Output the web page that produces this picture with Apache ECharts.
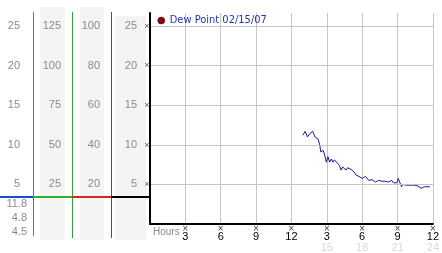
<!DOCTYPE html>
<html><head><meta charset="utf-8">
<script src="https://cdn.jsdelivr.net/npm/echarts@6/dist/echarts.min.js"></script>
<style>html,body{margin:0;padding:0;background:#fff}#c{width:442px;height:253px}</style>
</head><body><div id="c"></div>
<script>
// ---- data ----
const seriesName = 'Dew Point 02/15/07';
const hours = [12.97,13.16,13.36,13.57,13.80,13.99,14.10,14.27,14.41,14.49,14.69,14.82,14.96,15.10,15.24,15.38,15.52,15.65,15.79,16.07,16.21,16.35,16.50,16.63,16.75,16.90,17.05,17.18,17.30,17.46,17.73,18.01,18.15,18.29,18.56,18.70,18.84,19.12,19.25,19.39,19.55,19.68,19.80,19.95,20.10,20.22,20.35,20.51,20.65,20.78,20.95,21.06,21.20,21.34,21.45,21.61,21.75,21.89,22.17,22.30,22.44,22.60,22.72,22.85,23.00,23.15,23.28,23.50,23.75];
const dewPoint = [11.2,11.7,11.0,11.4,11.7,11.0,10.9,10.7,9.9,9.1,9.3,8.7,7.8,8.5,7.8,8.2,7.8,8.1,8.0,7.4,6.8,7.2,7.0,6.8,7.1,7.0,6.9,6.8,6.6,6.2,6.0,5.75,5.9,6.0,5.5,5.7,5.6,5.3,5.4,5.5,5.5,5.4,5.3,5.4,5.45,5.3,5.35,5.5,5.2,5.1,5.2,5.75,5.8,4.7,5.0,5.0,4.9,5.0,4.9,5.0,4.9,4.8,4.8,4.8,4.5,4.7,4.7,4.7,4.7];
const hourLabels = ['3','6','9','12','3','6','9','12'];
const subHourLabels = ['','','','','15','18','21','24'];
const col1Scale = 1, col2Scale = 5, col3Scale = 4;
const currentReadings = ['11.8','4.8','4.5'];

const Y_MAX = 26.63;
const gray = '#8a8a8a';
const lblFont = 'Liberation Sans, Arial, sans-serif';

function extraAxis(offset, factor, margin) {
  return {
    type: 'value', position: 'left', offset: offset, min: 0, max: Y_MAX, interval: 5, z: 5,
    axisLine: {show: false}, axisTick: {show: false}, splitLine: {show: false},
    axisLabel: {margin: margin, color: gray, fontFamily: lblFont, fontSize: 11,
      formatter: v => (v > 0 && v % 5 === 0) ? String(v * factor) : ''}
  };
}

const chart = echarts.init(document.getElementById('c'), null, {renderer: 'canvas'});
const gLines = [
  {x1: 33.5, y1: 12, x2: 33.5, y2: 236, c: '#2288d0', w: 1},
  {x1: 72.5, y1: 12, x2: 72.5, y2: 238, c: '#35a035', w: 1},
  {x1: 111.5, y1: 12, x2: 111.5, y2: 238, c: '#c02525', w: 1},
  {x1: 0, y1: 197, x2: 33, y2: 197, c: '#1a4ad6', w: 2},
  {x1: 33, y1: 197, x2: 72, y2: 197, c: '#30b030', w: 2},
  {x1: 72, y1: 197, x2: 111, y2: 197, c: '#dd2222', w: 2},
  {x1: 111, y1: 197, x2: 150, y2: 197, c: '#000000', w: 2}
];
const graphic = [
  {type: 'rect', shape: {x: 40, y: 7, width: 25, height: 233}, style: {fill: '#f4f4f4'}, z: -1},
  {type: 'rect', shape: {x: 80, y: 7, width: 24, height: 233}, style: {fill: '#f4f4f4'}, z: -1},
  {type: 'rect', shape: {x: 115, y: 16, width: 31, height: 224}, style: {fill: '#f4f4f4'}, z: -1}
].concat(gLines.map(l => ({type: 'line', shape: {x1: l.x1, y1: l.y1, x2: l.x2, y2: l.y2},
  style: {stroke: l.c, lineWidth: l.w}, z: 3})))
 .concat(currentReadings.map((t, i) => ({type: 'text', x: 27, y: 204 + i * 14,
  style: {text: t, fill: gray, font: '11px ' + lblFont, textAlign: 'right', textVerticalAlign: 'middle'}})))
 .concat([{type: 'text', x: 153, y: 232, style: {text: 'Hours', fill: gray, font: '10px ' + lblFont, textAlign: 'left', textVerticalAlign: 'middle'}}]);

chart.setOption({
  animation: false,
  grid: {left: 150, top: 13, right: 3.5, bottom: 27.5, containLabel: false},
  legend: {
    left: 157.5, top: 15, padding: 0, icon: 'circle', itemWidth: 7, itemHeight: 7,
    data: [{name: seriesName, itemStyle: {color: '#900000', borderColor: '#400000', borderWidth: 0.5}}],
    textStyle: {color: '#2233b0', fontFamily: 'DejaVu Sans Condensed, DejaVu Sans, sans-serif', fontSize: 11}
  },
  xAxis: {
    type: 'value', min: 0, max: 24, interval: 3,
    axisLine: {show: true, lineStyle: {color: '#000', width: 2}},
    axisTick: {show: false},
    splitLine: {show: true, showMinLine: false, lineStyle: {color: '#c4c4c4', width: 1}},
    axisLabel: {
      margin: 2,
      formatter: v => {
        if (v === 0) return '';
        const i = v / 3 - 1;
        let s = '{m|×}\n{n|' + hourLabels[i] + '}';
        if (subHourLabels[i]) s += '\n{s|' + subHourLabels[i] + '}';
        return s;
      },
      rich: {
        m: {fontSize: 8, lineHeight: 6, color: '#333', fontFamily: 'DejaVu Sans'},
        n: {fontSize: 11, lineHeight: 10, color: '#000', fontFamily: lblFont},
        s: {fontSize: 11, lineHeight: 11, color: '#d8d8d8', fontFamily: lblFont}
      }
    }
  },
  yAxis: [
    {
      type: 'value', min: 0, max: Y_MAX, interval: 5, z: 5,
      axisLine: {show: true, lineStyle: {color: '#000', width: 2}},
      axisTick: {show: false},
      splitLine: {show: true, showMinLine: false, showMaxLine: false, lineStyle: {color: '#c4c4c4', width: 1}},
      axisLabel: {
        margin: 1,
        formatter: v => (v > 0 && v % 5 === 0) ? '{n|' + v + '}{m|×}' : '',
        rich: {
          n: {fontSize: 11, color: gray, fontFamily: lblFont, padding: [0, 8, 0, 0]},
          m: {fontSize: 7, color: '#444', fontFamily: 'DejaVu Sans', width: 4, align: 'center'}
        }
      }
    },
    extraAxis(39, col3Scale, 11),
    extraAxis(78, col2Scale, 11),
    extraAxis(117, col1Scale, 13)
  ],
  graphic: graphic,
  series: [{
    name: seriesName, type: 'line', showSymbol: false, symbol: 'circle',
    data: hours.map((h, i) => [h, dewPoint[i]]),
    itemStyle: {color: '#900000'},
    lineStyle: {color: '#1a1a8c', width: 1}
  }]
});
</script></body></html>
